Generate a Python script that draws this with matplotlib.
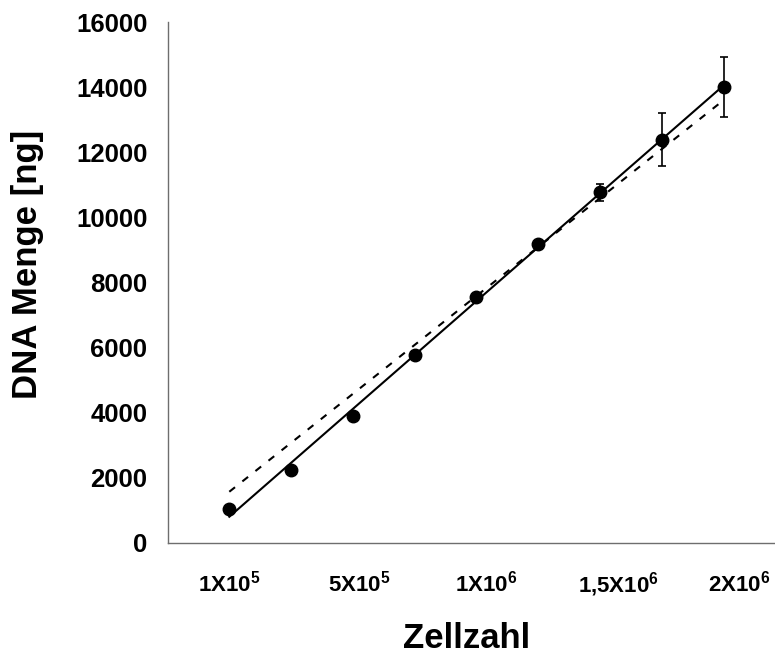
import numpy as np
import matplotlib
matplotlib.use("Agg")
import matplotlib.pyplot as plt

plt.rcParams["font.family"] = ["Liberation Sans", "DejaVu Sans"]
plt.rcParams["font.weight"] = "bold"
plt.rcParams["mathtext.fontset"] = "custom"
plt.rcParams["mathtext.rm"] = "Liberation Sans:bold"
plt.rcParams["mathtext.it"] = "Liberation Sans:bold"
plt.rcParams["mathtext.bf"] = "Liberation Sans:bold"
plt.rcParams["mathtext.default"] = "bf"

# measured DNA amount per cell-count step (9 dilution steps)
steps = [1, 2, 3, 4, 5, 6, 7, 8, 9]
dna_ng = [1040, 2240, 3880, 5770, 7550, 9170, 10760, 12380, 14010]
dna_err = [0, 0, 0, 0, 0, 0, 270, 810, 920]

# dashed comparison line, values at the first and last step
comparison_steps = [1, 9]
comparison_ng = [1560, 13600]

tick_labels = [r"1X10$^{5}$", r"5X10$^{5}$", r"1X10$^{6}$",
               r"1,5X10$^{6}$", r"2X10$^{6}$"]
y_ticks = [0, 2000, 4000, 6000, 8000, 10000, 12000, 14000, 16000]

W, H = 775, 657
fig = plt.figure(figsize=(W / 100, H / 100), dpi=100)
ax = fig.add_axes([167.5 / W, (H - 542.5) / H, 618 / W, 520.5 / H])

x = np.array(steps, dtype=float)
y = np.array(dna_ng, dtype=float)

# linear trend line through the measurements
slope, intercept = np.polyfit(x, y, 1)
xf = np.array([x.min(), x.max()])
ax.plot(xf, slope * xf + intercept, color="black", lw=1.5, zorder=2)

ax.plot(comparison_steps, comparison_ng, color="black", lw=1.5,
        dashes=(3.5, 4.5), zorder=2)

ax.errorbar(x, y, yerr=dna_err, fmt="o", color="black", ms=9,
            ecolor="black", elinewidth=1.2, capsize=3, capthick=1.2,
            zorder=3)

ax.set_xlim(0, 10)
ax.set_ylim(0, 16000)

for side in ("top", "right"):
    ax.spines[side].set_visible(False)
for side in ("left", "bottom"):
    ax.spines[side].set_color("#6e6e6e")
    ax.spines[side].set_linewidth(1.0)

ax.set_yticks(y_ticks)
ax.set_yticklabels([str(v) for v in y_ticks], fontsize=18.5, fontweight="bold")
ax.tick_params(axis="y", length=0, pad=14.5)

label_pos = [1.0, 3.1, 5.15, 7.3, 9.25]
ax.set_xticks(label_pos)
ax.set_xticklabels(tick_labels, fontsize=16, fontweight="bold")
ax.tick_params(axis="x", length=0, pad=35.5)
for lbl in ax.get_xticklabels():
    lbl.set_verticalalignment("baseline")

fig.text(467 / W, 9 / H, "Zellzahl", fontsize=25, fontweight="bold",
         ha="center", va="baseline")
fig.text(28 / W, (H - 264) / H, "DNA Menge [ng]", fontsize=25,
         fontweight="bold", rotation=90, ha="center", va="center")

fig.savefig("out.png", dpi=100)
